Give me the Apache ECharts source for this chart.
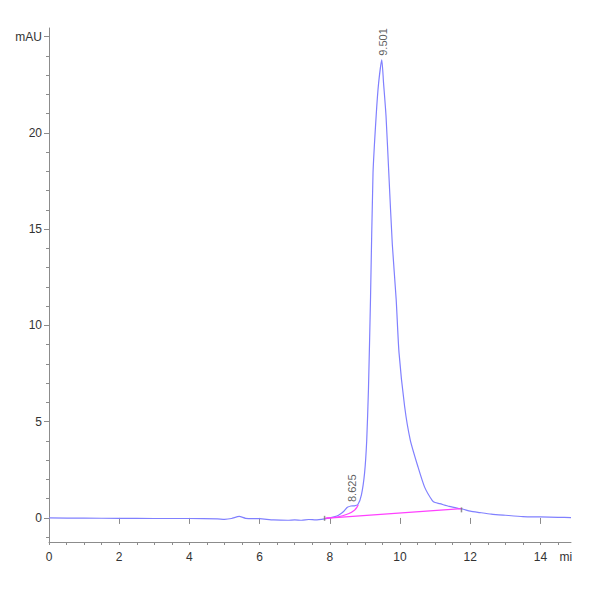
<!DOCTYPE html>
<html>
<head>
<meta charset="utf-8">
<script src="https://cdn.jsdelivr.net/npm/echarts@6/dist/echarts.min.js"></script>
<style>
  html, body { margin: 0; padding: 0; background: #fff; }
  #chart { width: 600px; height: 600px; }
</style>
</head>
<body>
<div id="chart"></div>
<script>
// retention time (min) and detector signal (mAU)
var times = [0, 1, 2, 3, 4, 4.8, 5.0, 5.2, 5.42, 5.6, 6.0, 6.4, 6.8, 7.0, 7.2, 7.4, 7.6, 7.85,
  8.0, 8.2, 8.3, 8.4, 8.5, 8.6, 8.7, 8.8, 8.9, 8.99, 9.05, 9.1, 9.16, 9.23, 9.32, 9.39, 9.48,
  9.53, 9.6, 9.68, 9.78, 9.89, 9.97, 10.13, 10.29, 10.51, 10.7, 10.92, 11.0, 11.13,
  11.4, 11.65, 11.8, 12.0, 12.27, 12.6, 13.0, 13.5, 14.0, 14.5, 14.87];
var signal = [0.0, -0.01, -0.02, -0.03, -0.03, -0.05, -0.07, -0.03, 0.08, -0.02, -0.04, -0.1, -0.12, -0.1, -0.12, -0.08, -0.1, -0.05,
  0.0, 0.1, 0.2, 0.35, 0.55, 0.62, 0.63, 0.7, 1.2, 2.34, 4.0, 6.67, 11.5, 17.9, 20.9, 22.6, 23.8,
  22.6, 20.9, 17.9, 14.2, 11.35, 8.6, 5.8, 4.06, 2.66, 1.6, 0.9, 0.8, 0.74,
  0.6, 0.5, 0.45, 0.35, 0.28, 0.2, 0.14, 0.07, 0.05, 0.03, 0.02];

// integration baseline and skim line (magenta)
var baseT = [7.85, 11.75];
var baseV = [-0.02, 0.48];
var skimT = [7.9, 8.2, 8.49, 8.7, 8.81];
var skimV = [0.0, 0.05, 0.19, 0.4, 0.68];

// peak start / end markers
var markT = [7.85, 11.75];
var markV = [-0.02, 0.42];

// peak labels
var peakT = [8.625, 9.501];
var peakV = [0.62, 23.8];
var peakNames = ['8.625', '9.501'];

var yMinor = [];
for (var i = -1; i <= 25; i++) yMinor.push(i);
var yMajor = [0, 5, 10, 15, 20, 25];
var xMinor = [];
for (var k = 0; k <= 29; k++) xMinor.push(k * 0.5);
var xMajor = [0, 2, 4, 6, 8, 10, 12, 14];

function pairs(a, b) {
  return a.map(function(v, i) { return [v, b[i]]; });
}

var font = '"Liberation Sans Narrow", "Liberation Sans", Arial, sans-serif';
var axisGray = '#8c8c8c';
var textGray = '#333';

var chart = echarts.init(document.getElementById('chart'), null, { renderer: 'svg' });
chart.setOption({
  animation: false,
  grid: { left: 49, right: 29, top: 28, bottom: 58 },
  xAxis: [
    {
      type: 'value', min: 0, max: 14.87,
      axisLine: { show: true, onZero: false, lineStyle: { color: axisGray } },
      axisTick: { show: true, customValues: xMinor, length: 3, lineStyle: { color: axisGray } },
      axisLabel: { show: false },
      splitLine: { show: false }
    },
    {
      type: 'value', min: 0, max: 14.87, position: 'bottom',
      axisLine: { show: false },
      axisTick: { show: true, customValues: xMajor, length: 6, lineStyle: { color: axisGray } },
      axisLabel: {
        show: true, customValues: xMajor.concat([14.72]), color: textGray,
        fontFamily: font, fontSize: 12, margin: 9,
        formatter: function(v) { return v > 14.5 ? 'mi' : String(v); }
      },
      splitLine: { show: false }
    }
  ],
  yAxis: [
    {
      type: 'value', min: -1.25, max: 25.45,
      axisLine: { show: true, onZero: false, lineStyle: { color: axisGray } },
      axisTick: { show: true, customValues: yMinor, length: 3, lineStyle: { color: axisGray } },
      axisLabel: { show: false },
      splitLine: { show: false }
    },
    {
      type: 'value', min: -1.25, max: 25.45, position: 'left',
      axisLine: { show: false },
      axisTick: { show: true, customValues: yMajor, length: 5, lineStyle: { color: axisGray } },
      axisLabel: {
        show: true, customValues: yMajor, color: textGray,
        fontFamily: font, fontSize: 12, margin: 7,
        formatter: function(v) { return v === 25 ? 'mAU' : String(v); }
      },
      splitLine: { show: false }
    }
  ],
  series: [
    {
      name: 'baseline', type: 'line', data: pairs(baseT, baseV),
      symbol: 'none', lineStyle: { color: '#ff40ff', width: 1.2 }, z: 3
    },
    {
      name: 'skim', type: 'line', data: pairs(skimT, skimV), smooth: true,
      symbol: 'none', lineStyle: { color: '#ff40ff', width: 1.2 }, z: 3
    },
    {
      name: 'signal', type: 'line', data: pairs(times, signal),
      smooth: 0.2,
      symbol: 'none', lineStyle: { color: '#8080ff', width: 1.2 }, z: 2
    },
    {
      name: 'marks', type: 'scatter', data: pairs(markT, markV),
      symbol: 'rect', symbolSize: [1.5, 5], itemStyle: { color: '#777' }, z: 4
    },
    {
      name: 'peaks', type: 'scatter', data: pairs(peakT, peakV).map(function(p, i) {
        return { value: p, name: peakNames[i] };
      }),
      symbolSize: 0, z: 5,
      label: {
        show: true, position: 'top', distance: 4, rotate: 90,
        align: 'left', verticalAlign: 'middle',
        formatter: function(p) { return p.name; },
        color: textGray, fontFamily: '"Liberation Sans", Arial, sans-serif', fontSize: 11
      }
    }
  ]
});
window.addEventListener('resize', function() { chart.resize(); });
</script>
</body>
</html>
